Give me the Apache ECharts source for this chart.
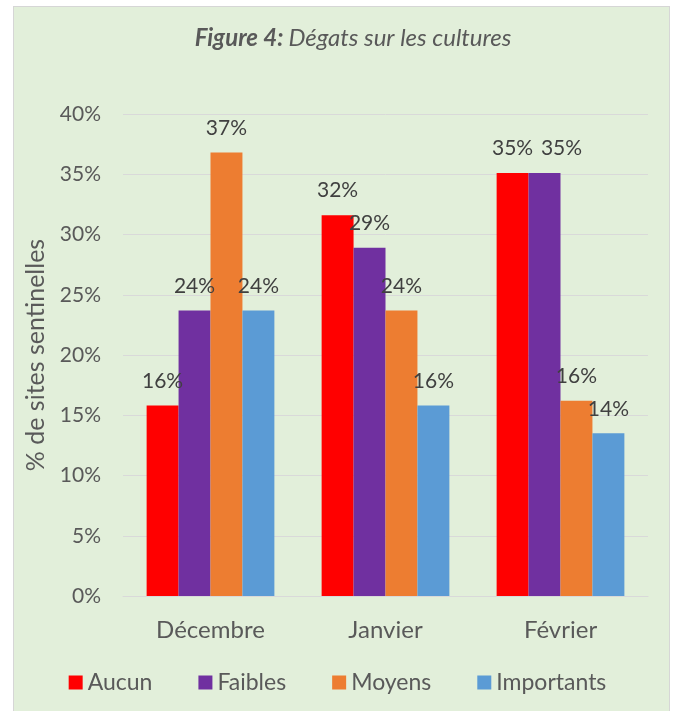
<!DOCTYPE html>
<html>
<head>
<meta charset="utf-8">
<script src="https://cdn.jsdelivr.net/npm/echarts@6/dist/echarts.min.js"></script>
<style>
html, body { margin: 0; padding: 0; background: #fff; }
.frame { position: absolute; left: 13px; top: 6px; width: 657px; height: 710px; background: #e2efda; border: 1px solid #d6d6d6; box-sizing: border-box; }
#main { position: absolute; left: 0; top: 0; width: 675px; height: 711px; }
</style>
</head>
<body>
<div class="frame"></div>
<div id="main"></div>
<script>
const months = ['Décembre', 'Janvier', 'Février']
const aucun = [15.8, 31.6, 35.1]
const faibles = [23.7, 28.9, 35.1]
const moyens = [36.8, 23.7, 16.2]
const importants = [23.7, 15.8, 13.5]

const txt = '#595959'
const labelStyle = {
  show: true,
  position: 'top',
  distance: 14,
  fontFamily: 'Lato',
  fontSize: 21,
  color: '#404040',
  formatter: p => Math.round(p.value) + '%'
}
// label shifts (px) to avoid overlap, like the Excel original
function bar (name, data, color, shifts) {
  const items = data.map((v, i) => shifts && shifts[i] ? { value: v, label: { offset: [shifts[i], 0] } } : v)
  return { name: name, type: 'bar', data: items, itemStyle: { color: color }, label: labelStyle, barGap: '0%', barCategoryGap: '27%' }
}

const myChart = echarts.init(document.getElementById('main'))
myChart.setOption({
  animation: false,
  title: {
    text: '{b|Figure 4:} {i|Dégats sur les cultures}',
    left: 348,
    textAlign: 'center',
    top: 21,
    textStyle: {
      rich: {
        b: { fontFamily: 'Lato', fontStyle: 'italic', fontWeight: 'bold', fontSize: 24, color: '#595959' },
        i: { fontFamily: 'Lato', fontStyle: 'italic', fontWeight: 'normal', fontSize: 24, color: '#595959' }
      }
    }
  },
  legend: {
    bottom: 12,
    left: 'center',
    itemWidth: 14,
    itemHeight: 14,
    itemGap: 46,
    icon: 'rect',
    textStyle: { fontFamily: 'Lato', fontSize: 23, color: txt }
  },
  grid: { left: 123, right: 27, top: 114, bottom: 115 },
  xAxis: {
    type: 'category',
    data: months,
    axisLine: { show: true, lineStyle: { color: '#d9d9d9' } },
    axisTick: { show: false },
    axisLabel: { fontFamily: 'Lato', fontSize: 24, color: txt, margin: 22 }
  },
  yAxis: {
    type: 'value',
    min: 0,
    max: 40,
    interval: 5,
    name: '% de sites sentinelles',
    nameLocation: 'middle',
    nameGap: 70,
    nameTextStyle: { fontFamily: 'Lato', fontSize: 25, color: txt },
    axisLabel: { formatter: '{value}%', fontFamily: 'Lato', fontSize: 21, color: txt, margin: 22 },
    splitLine: { lineStyle: { color: '#d9d9d9' } }
  },
  series: [
    bar('Aucun', aucun, '#ff0000'),
    bar('Faibles', faibles, '#7030a0', [0, 0, 17]),
    bar('Moyens', moyens, '#ed7d31'),
    bar('Importants', importants, '#5b9bd5')
  ]
})
</script>
</body>
</html>
